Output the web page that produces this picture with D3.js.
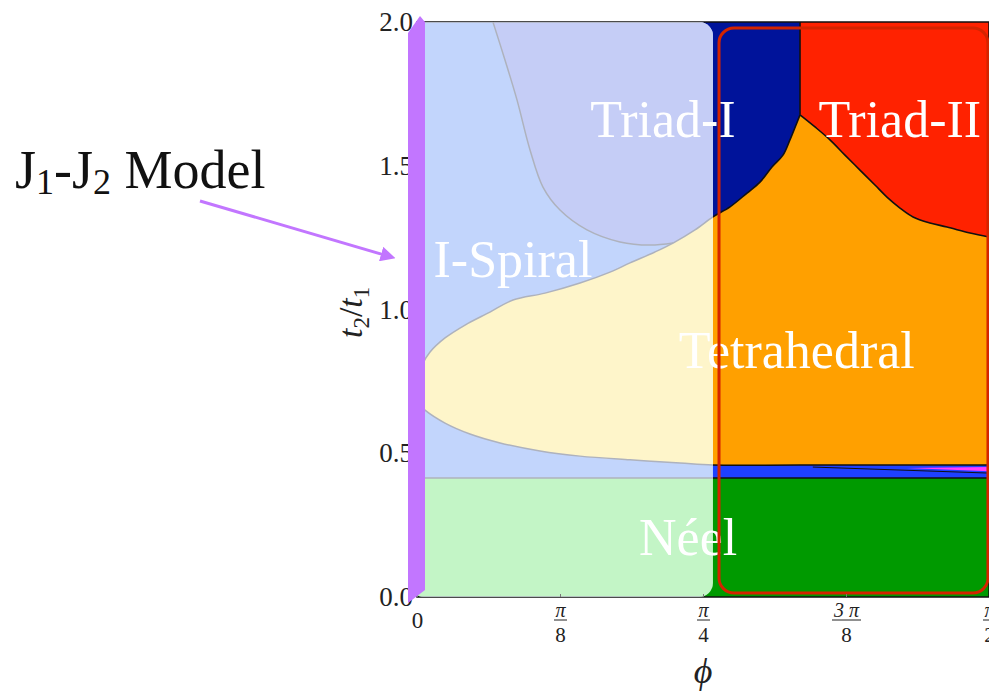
<!DOCTYPE html>
<html>
<head>
<meta charset="utf-8">
<script src="https://cdn.jsdelivr.net/npm/d3@7"></script>
<style>
  html, body { margin: 0; padding: 0; background: #fff; }
  svg { display: block; }
</style>
</head>
<body>
<svg id="chart" width="989" height="692"></svg>
<script>
// ---- Phase boundaries: [φ/π, t2/t1] ----
const neelTop = 0.414;          // Néel | I-Spiral boundary (flat)
const triadSplit = 0.3348;      // φ/π of the Triad-I | Triad-II divide

// upper edge of the Tetrahedral phase (I-Spiral, then Triad-I above it)
const tetraUpper = [
  [0, 0.755], [0.0044, 0.807], [0.0114, 0.852], [0.0245, 0.901], [0.0420, 0.946],
  [0.0638, 0.991], [0.0839, 1.033], [0.1119, 1.057], [0.1425, 1.092], [0.1687, 1.130],
  [0.1862, 1.162], [0.2080, 1.200], [0.2238, 1.231], [0.2430, 1.277], [0.2587, 1.322],
  [0.2736, 1.357], [0.2885, 1.405], [0.2998, 1.443], [0.3103, 1.496], [0.3199, 1.537],
  [0.3260, 1.590], [0.3313, 1.642], [0.3348, 1.677]
];
// lower edge of the Tetrahedral phase
const tetraLower = [
  [0, 0.678], [0.0070, 0.650], [0.0245, 0.605], [0.0463, 0.567], [0.0726, 0.536],
  [0.1075, 0.508], [0.1425, 0.490], [0.1862, 0.477], [0.2299, 0.466], [0.2587, 0.459],
  [0.3348, 0.459], [0.5, 0.459]
];
// Triad-II | Tetrahedral boundary
const triadIILower = [
  [0.3348, 1.677], [0.3479, 1.635], [0.3610, 1.590], [0.3741, 1.537], [0.3872, 1.485],
  [0.4003, 1.433], [0.4108, 1.391], [0.4222, 1.353], [0.4336, 1.322], [0.4484, 1.301],
  [0.4633, 1.287], [0.4834, 1.266], [0.5, 1.252]
];
// Triad-I | I-Spiral boundary
const triadILeft = [
  [0.0664, 2.0], [0.0769, 1.868], [0.0874, 1.729], [0.0988, 1.555], [0.1101, 1.426],
  [0.1250, 1.346], [0.1486, 1.277], [0.1774, 1.235], [0.2036, 1.224], [0.2238, 1.231]
];
// sliver phase inside the I-Spiral band
const sliverPhase = [[0.428, 0.449], [0.5, 0.452], [0.5, 0.437]];
const sliverEdge = [[0.346, 0.452], [0.5, 0.431]];

const phaseNames  = ["I-Spiral", "Néel", "Tetrahedral", "Triad-I", "Triad-II"];
const fullColors  = ["#1e40ff", "#009a00", "#ffa000", "#00139a", "#ff2200"];
const paleColors  = ["#c2d5fc", "#c3f5c6", "#fef5ca", "#c5cdf6", "#ffc8bd"];
const sliverColor = "#ff3cff";

// axis ticks
const yTicks = [0, 0.5, 1.0, 1.5, 2.0];
const xTicks = [0, 1 / 8, 1 / 4, 3 / 8, 1 / 2];        // in units of π
const xTickNumer = ["0", "π", "π", "3 π", "π"];
const xTickDenom = ["", "8", "4", "8", "2"];

// ---- layout ----
const serif = "'Liberation Serif', 'DejaVu Serif', serif";
const svg = d3.select("#chart");

const x = d3.scaleLinear().domain([0, Math.PI / 2]).range([417, 989]);
const y = d3.scaleLinear().domain([0, 2]).range([597, 22]);
const px = d => x(d[0] * Math.PI);
const py = d => y(d[1]);

const straight = d3.line().x(px).y(py);
const smooth = d3.line().x(px).y(py).curve(d3.curveCatmullRom.alpha(0.5));
// a piece is either a plain polyline (array) or a smooth boundary ({c: array})
const seg = p => Array.isArray(p) ? straight(p) : smooth(p.c);
const curved = pts => ({ c: pts });
function outline(...pieces) {
  return pieces.map((p, i) => i ? seg(p).replace(/^M/, "L") : seg(p)).join("") + "Z";
}

const junction = triadILeft[triadILeft.length - 1][0];
const cusp = tetraUpper[tetraUpper.length - 1];
const rightTop = triadIILower[triadIILower.length - 1];
const rightLow = tetraLower[tetraLower.length - 1];

const regionPaths = [
  outline([[0, neelTop], [0.5, neelTop], [0.5, 2], [0, 2]]),
  outline([[0, 0], [0.5, 0], [0.5, neelTop], [0, neelTop]]),
  outline(curved(tetraUpper), curved(triadIILower), [rightTop, rightLow],
          curved(tetraLower.slice().reverse()),
          [[0, tetraLower[0][1]], [0, tetraUpper[0][1]]]),
  outline(curved(triadILeft), curved(tetraUpper.filter(p => p[0] >= junction)),
          [[triadSplit, cusp[1]], [triadSplit, 2], [triadILeft[0][0], 2]]),
  outline([[triadSplit, 2], [triadSplit, cusp[1]]], curved(triadIILower), [rightTop, [0.5, 2]])
];
const boundaryPaths = [
  seg(curved(tetraUpper)), seg(curved(triadIILower)), seg(curved(tetraLower)), seg(curved(triadILeft)),
  seg([[triadSplit, cusp[1]], [triadSplit, 2]]),
  seg([[0, neelTop], [0.5, neelTop]])
];

function drawPhases(g, colors, lineColor, lineWidth) {
  g.selectAll("path.region").data(regionPaths).join("path")
    .attr("class", "region").attr("d", d => d)
    .attr("fill", (d, i) => colors[i]);
  g.append("path").attr("d", outline(sliverPhase)).attr("fill", sliverColor);
  g.selectAll("path.edge").data(boundaryPaths).join("path")
    .attr("class", "edge").attr("d", d => d)
    .attr("fill", "none").attr("stroke", lineColor).attr("stroke-width", lineWidth);
  g.append("path").attr("d", seg(sliverEdge)).attr("fill", "none")
    .attr("stroke", lineColor).attr("stroke-width", 1);
  g.append("rect")
    .attr("x", x(0)).attr("y", y(2))
    .attr("width", x(Math.PI / 2) - x(0)).attr("height", y(0) - y(2))
    .attr("fill", "none").attr("stroke", lineColor).attr("stroke-width", 1.5);
}

// full-colour phase map
drawPhases(svg.append("g"), fullColors, "#111", 1.6);

// washed-out panel over the small-φ side
const panelRight = 0.2587;
svg.append("clipPath").attr("id", "panelClip")
  .append("rect")
  .attr("x", x(0) - 7).attr("y", y(2))
  .attr("width", x(panelRight * Math.PI) - x(0) + 7).attr("height", y(0) - y(2))
  .attr("rx", 14);
drawPhases(svg.append("g").attr("clip-path", "url(#panelClip)"), paleColors, "#aeb2bd", 1.5);

// phase labels
const labelAt = {
  "I-Spiral": [0.0839, 1.113], "Néel": [0.237, 0.146], "Tetrahedral": [0.332, 0.797],
  "Triad-I": [0.215, 1.60], "Triad-II": [0.422, 1.60]
};
svg.append("g").selectAll("text").data(phaseNames).join("text")
  .attr("x", d => px(labelAt[d])).attr("y", d => py(labelAt[d]))
  .attr("text-anchor", "middle")
  .attr("font-family", serif).attr("font-size", 52)
  .attr("fill", "#fff")
  .text(d => d);

// highlighted block of the large-φ side
svg.append("rect")
  .attr("x", x(0.264 * Math.PI)).attr("y", y(1.979))
  .attr("width", x(0.4991 * Math.PI) - x(0.264 * Math.PI))
  .attr("height", y(0.014) - y(1.979))
  .attr("rx", 15)
  .attr("fill", "none").attr("stroke", "#d42400").attr("stroke-width", 3);

// y axis
const yAxis = svg.append("g").attr("transform", `translate(${x(0)},0)`)
  .call(d3.axisLeft(y).tickValues(yTicks).tickFormat(d3.format(".1f")).tickSize(0).tickPadding(4));
yAxis.select(".domain").remove();
yAxis.selectAll("text").attr("font-family", serif).attr("font-size", 27).attr("fill", "#222");

// x axis with fractional π labels
const xAxis = svg.append("g").attr("transform", `translate(0,${y(0)})`)
  .call(d3.axisBottom(x).tickValues(xTicks.map(v => v * Math.PI)).tickFormat("").tickSize(0));
xAxis.select(".domain").remove();
xAxis.selectAll(".tick").each(function (d, i) {
  const t = d3.select(this);
  t.append("line").attr("y1", 0).attr("y2", -3).attr("stroke", "#777");
  if (!xTickDenom[i]) {
    t.append("text").attr("y", 31).attr("text-anchor", "middle")
      .attr("font-family", serif).attr("font-size", 23).attr("fill", "#222")
      .text(xTickNumer[i]);
    return;
  }
  const num = t.append("text").attr("y", 20).attr("text-anchor", "middle")
    .attr("font-family", serif).attr("font-size", 20).attr("font-style", "italic")
    .attr("fill", "#222").text(xTickNumer[i]);
  const w = num.node().getBBox().width + 2;
  t.append("line").attr("x1", -w / 2).attr("x2", w / 2).attr("y1", 23).attr("y2", 23)
    .attr("stroke", "#222").attr("stroke-width", 1);
  t.append("text").attr("y", 45).attr("text-anchor", "middle")
    .attr("font-family", serif).attr("font-size", 21).attr("fill", "#222")
    .text(xTickDenom[i]);
});

// axis titles
svg.append("text")
  .attr("x", x(Math.PI / 4)).attr("y", 683).attr("text-anchor", "middle")
  .attr("font-family", serif).attr("font-size", 36).attr("font-style", "italic")
  .attr("fill", "#222").text("ϕ");

const yTitle = svg.append("text")
  .attr("transform", `translate(362,${y(0.99)}) rotate(-90)`)
  .attr("text-anchor", "middle")
  .attr("font-family", serif).attr("font-size", 34).attr("font-style", "italic").attr("fill", "#222");
yTitle.append("tspan").text("t");
yTitle.append("tspan").attr("font-size", 23).attr("font-style", "normal").attr("dy", 7).text("2");
yTitle.append("tspan").attr("dy", -7).attr("font-style", "normal").text("/");
yTitle.append("tspan").text("t");
yTitle.append("tspan").attr("font-size", 23).attr("font-style", "normal").attr("dy", 7).text("1");

// J1-J2 limit marker along φ = 0
const accent = "#c276ff";
const bx = x(0);
svg.append("path")
  .attr("d", `M${bx - 9},${y(0) + 6} L${bx - 9},${y(2) + 11} L${bx + 3},${y(2) - 6} L${bx + 8},${y(2)} L${bx + 8},${y(0) - 7} Z`)
  .attr("fill", accent);

svg.append("defs").append("marker")
  .attr("id", "head").attr("viewBox", "0 0 10 10").attr("refX", 2).attr("refY", 5)
  .attr("markerWidth", 5).attr("markerHeight", 5).attr("orient", "auto")
  .append("path").attr("d", "M0,0 L10,5 L0,10 Z").attr("fill", accent);
svg.append("line")
  .attr("x1", 200).attr("y1", 201).attr("x2", bx - 33).attr("y2", y(1.19))
  .attr("stroke", accent).attr("stroke-width", 3).attr("marker-end", "url(#head)");

const note = svg.append("text").attr("x", 15).attr("y", 188)
  .attr("font-family", serif).attr("font-size", 54).attr("fill", "#111");
note.append("tspan").text("J");
note.append("tspan").attr("font-size", 36).attr("dy", 6).text("1");
note.append("tspan").attr("dy", -6).text("-J");
note.append("tspan").attr("font-size", 36).attr("dy", 6).text("2");
note.append("tspan").attr("dy", -6).text(" Model");
</script>
</body>
</html>
